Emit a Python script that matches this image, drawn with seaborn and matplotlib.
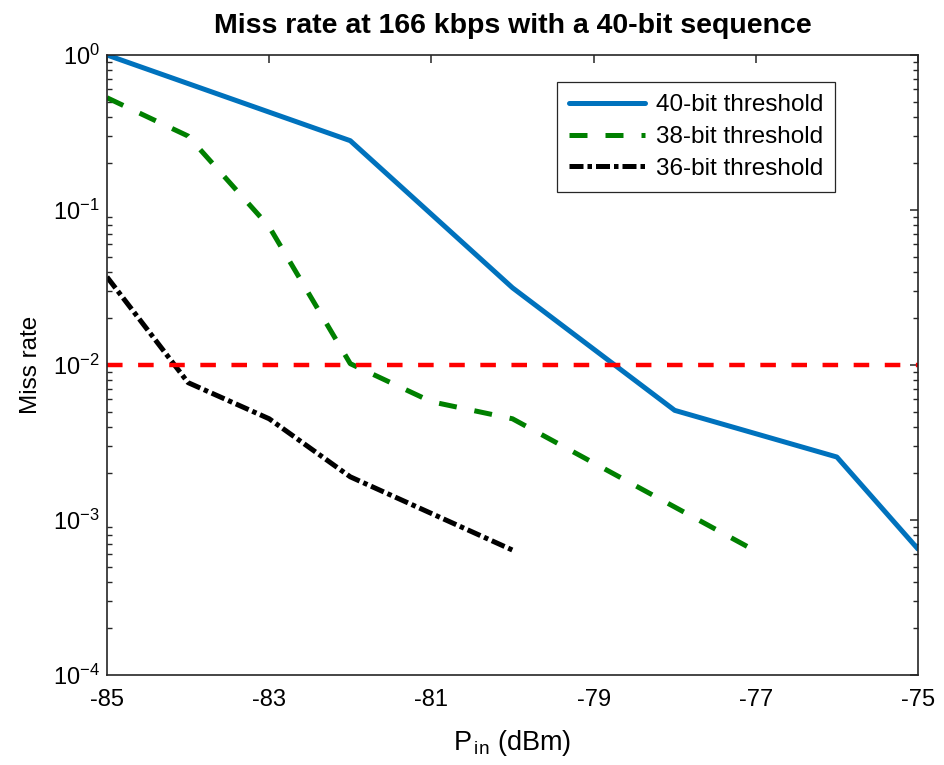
import matplotlib
matplotlib.use("Agg")
import matplotlib.pyplot as plt
import seaborn as sns

# Input power (dBm) and miss rate for each detection threshold
pin_40 = [-85, -82, -80, -78, -76, -75]
miss_40 = [1.0, 0.28, 0.0315, 0.0051, 0.00255, 0.00065]

pin_38 = [-85, -84, -83, -82, -81, -80, -77]
miss_38 = [0.53, 0.30, 0.078, 0.0102, 0.0058, 0.0045, 0.00063]

pin_36 = [-85, -84, -83, -82, -80]
miss_36 = [0.037, 0.0077, 0.0045, 0.0019, 0.00064]

target_rate = 0.01

labels = ["40-bit threshold", "38-bit threshold", "36-bit threshold"]
x_ticks = [-85, -83, -81, -79, -77, -75]

sns.set_theme(style="white")
plt.rcParams["font.family"] = ["Liberation Sans", "DejaVu Sans"]
plt.rcParams["mathtext.fontset"] = "custom"
plt.rcParams["mathtext.rm"] = "Liberation Sans"
plt.rcParams["mathtext.it"] = "Liberation Sans:italic"
plt.rcParams["text.color"] = "black"
plt.rcParams["axes.labelcolor"] = "black"

fig = plt.figure(figsize=(9.45, 7.65), dpi=100)
ax = fig.add_axes([0.1132, 0.1176, 0.8582, 0.8105])

sns.lineplot(x=pin_40, y=miss_40, ax=ax, color="#0072BD", lw=3.6,
             linestyle="-", label=labels[0])
sns.lineplot(x=pin_38, y=miss_38, ax=ax, color="#008000", lw=3.6,
             linestyle=(0, (3.6, 3.6)), label=labels[1])
sns.lineplot(x=pin_36, y=miss_36, ax=ax, color="black", lw=3.6,
             linestyle=(0, (2.8, 0.8, 0.9, 0.8)), label=labels[2])
ax.axhline(target_rate, color="#FF0000", lw=3.2, linestyle=(0, (3.5, 3.5)))

ax.set_yscale("log")
ax.set_xlim(-85, -75)
ax.set_ylim(1e-4, 1)
ax.set_xticks(x_ticks)
ax.set_xticklabels([str(t) for t in x_ticks])
ax.set_yticks([1e-4, 1e-3, 1e-2, 1e-1, 1])

ax.tick_params(axis="both", which="major", direction="in", length=6,
               width=1.1, color="#262626", top=True, right=True,
               labelsize=17, labelcolor="black")
ax.tick_params(axis="x", which="major", pad=10)
ax.tick_params(axis="y", which="major", pad=5)
ax.tick_params(axis="y", which="minor", direction="in", length=3.5,
               width=1.0, color="#262626", left=True, right=True)
for s in ax.spines.values():
    s.set_color("#262626")
    s.set_linewidth(1.2)

ax.set_title("Miss rate at 166 kbps with a 40-bit sequence",
             fontsize=20.5, fontweight="bold", pad=16)
ax.set_xlabel(r"P$_{\,\rm in}$ (dBm)", fontsize=19.5, labelpad=12)
ax.set_ylabel("Miss rate", fontsize=17.5, labelpad=8)

leg = ax.legend(loc="upper right", bbox_to_anchor=(0.898, 0.956),
                borderaxespad=0, fontsize=17.5, frameon=True, fancybox=False,
                framealpha=1, edgecolor="#262626", handlelength=3.1,
                labelspacing=0.4, borderpad=0.5, handletextpad=0.45)
leg.get_frame().set_linewidth(0.9)

fig.savefig("out.png", dpi=100)
